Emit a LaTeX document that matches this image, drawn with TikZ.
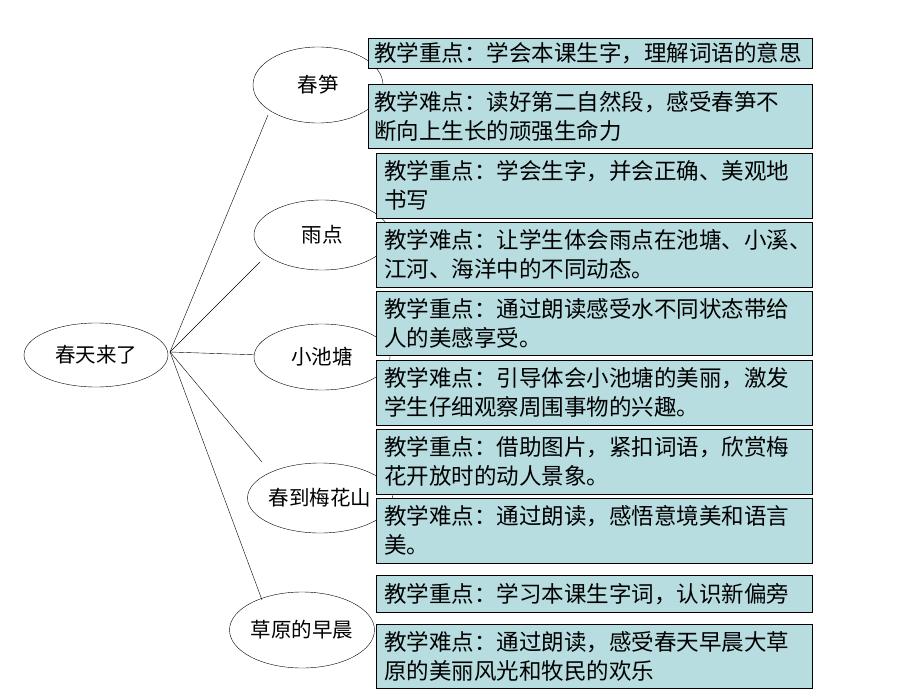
\documentclass[tikz,border=0pt]{standalone}
\usepackage{fontspec}
\setmainfont{Noto Sans CJK SC}
\usetikzlibrary{shapes.geometric}
\definecolor{boxfill}{RGB}{183,221,224}
\begin{document}
\begin{tikzpicture}[x=1pt,y=-1pt,
  topic/.style={draw, ellipse, fill=white, inner sep=0pt, font=\fontsize{20.5}{24}\selectfont},
  note/.style={draw, fill=boxfill, rectangle, anchor=north west, inner sep=0pt, inner xsep=8pt,
    text width=428pt, align=left, font=\fontsize{22.5}{29}\selectfont}]
\useasboundingbox (0,0) rectangle (920,690);
\node[topic, minimum width=144pt, minimum height=64pt] (root) at (96,355) {春天来了};
\node[topic, minimum width=130pt, minimum height=76pt] (T1) at (318,85) {春笋};
\node[topic, minimum width=136pt, minimum height=70pt] (T2) at (322,235) {雨点};
\node[topic, minimum width=136pt, minimum height=66pt] (T3) at (322,357) {小池塘};
\node[topic, minimum width=136pt, minimum height=70pt] (T4) at (320,498) {春到梅花山};
\node[topic, minimum width=130pt, minimum height=76pt] (T5) at (302,630) {草原的早晨};
\coordinate (hub) at (170,352);
\draw (hub) -- (268,115);
\draw (hub) -- (260,262);
\draw (hub) -- (T3);
\draw (hub) -- (262,462);
\draw (hub) -- (262,600);
\node[note, minimum height=30pt, inner xsep=6pt, text width=432pt] (N1) at (368,38) {教学重点：学会本课生字，理解词语的意思};
\node[note, minimum height=64pt, inner xsep=6pt, text width=432pt] (N2) at (368,84) {教学难点：读好第二自然段，感受春笋不\\断向上生长的顽强生命力};
\node[note, minimum height=65pt, text width=420pt] (N3) at (376,153) {教学重点：学会生字，并会正确、美观地\\书写};
\node[note, minimum height=65pt, text width=420pt] (N4) at (376,222) {教学难点：让学生体会雨点在池塘、小溪、\\江河、海洋中的不同动态。};
\node[note, minimum height=64pt, text width=420pt] (N5) at (376,291) {教学重点：通过朗读感受水不同状态带给\\人的美感享受。};
\node[note, minimum height=65pt, text width=420pt] (N6) at (376,360) {教学难点：引导体会小池塘的美丽，激发\\学生仔细观察周围事物的兴趣。};
\node[note, minimum height=65pt, text width=420pt] (N7) at (376,429) {教学重点：借助图片，紧扣词语，欣赏梅\\花开放时的动人景象。};
\node[note, minimum height=65pt, text width=420pt] (N8) at (376,498) {教学难点：通过朗读，感悟意境美和语言\\美。};
\node[note, minimum height=37pt, text width=420pt] (N9) at (376,575) {教学重点：学习本课生字词，认识新偏旁};
\node[note, minimum height=64pt, text width=420pt] (N10) at (376,624) {教学难点：通过朗读，感受春天早晨大草\\原的美丽风光和牧民的欢乐};
\end{tikzpicture}
\end{document}
